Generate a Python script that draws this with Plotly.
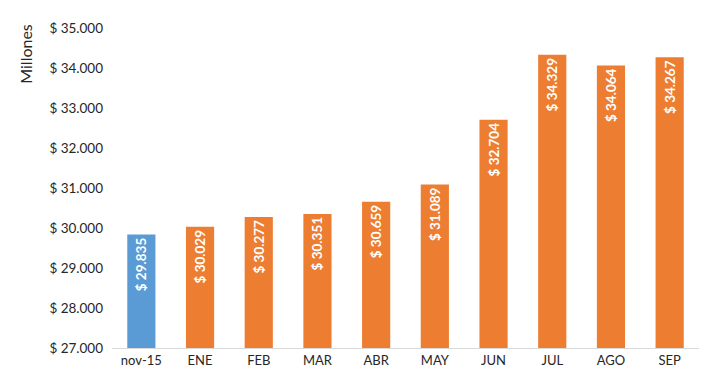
import plotly.graph_objects as go

categories = ["nov-15", "ENE", "FEB", "MAR", "ABR", "MAY", "JUN", "JUL", "AGO", "SEP"]
values = [29835, 30029, 30277, 30351, 30659, 31089, 32704, 34329, 34064, 34267]
tick_vals = [27000, 28000, 29000, 30000, 31000, 32000, 33000, 34000, 35000]
tick_text = ["$ 27.000", "$ 28.000", "$ 29.000", "$ 30.000", "$ 31.000",
             "$ 32.000", "$ 33.000", "$ 34.000", "$ 35.000"]

def fmt(v):
    return "$ " + f"{v:,}".replace(",", ".")

colors = ["#5B9BD5"] + ["#ED7D31"] * (len(categories) - 1)

fig = go.Figure(go.Bar(
    x=categories, y=values,
    marker=dict(color=colors, line=dict(width=0)),
    text=[fmt(v) for v in values],
    textposition="inside",
    insidetextanchor="end",
    textangle=-90,
    textfont=dict(color="white", size=13.5, family="Lato", weight="bold"),
    cliponaxis=False,
))

fig.update_layout(
    width=710, height=385,
    margin=dict(l=104, r=19, t=20, b=45),
    plot_bgcolor="white", paper_bgcolor="white",
    bargap=0.52,
    showlegend=False,
    font=dict(family="Lato", size=13, color="#262626"),
    xaxis=dict(showline=True, linecolor="#D9D9D9", linewidth=1, ticks="",
               tickfont=dict(size=13, color="#262626")),
    yaxis=dict(range=[27000, 35000], tickvals=tick_vals, ticktext=tick_text,
               showgrid=False, zeroline=False, showline=False, ticks="",
               tickfont=dict(size=13.5, color="#262626"), ticklabelstandoff=8),
    annotations=[dict(text="Millones", textangle=-90, xref="paper", yref="paper",
                      x=-0.148, y=1.02, xanchor="center", yanchor="top",
                      showarrow=False, font=dict(size=16, color="#262626"))],
)

fig.write_html("out.html")
